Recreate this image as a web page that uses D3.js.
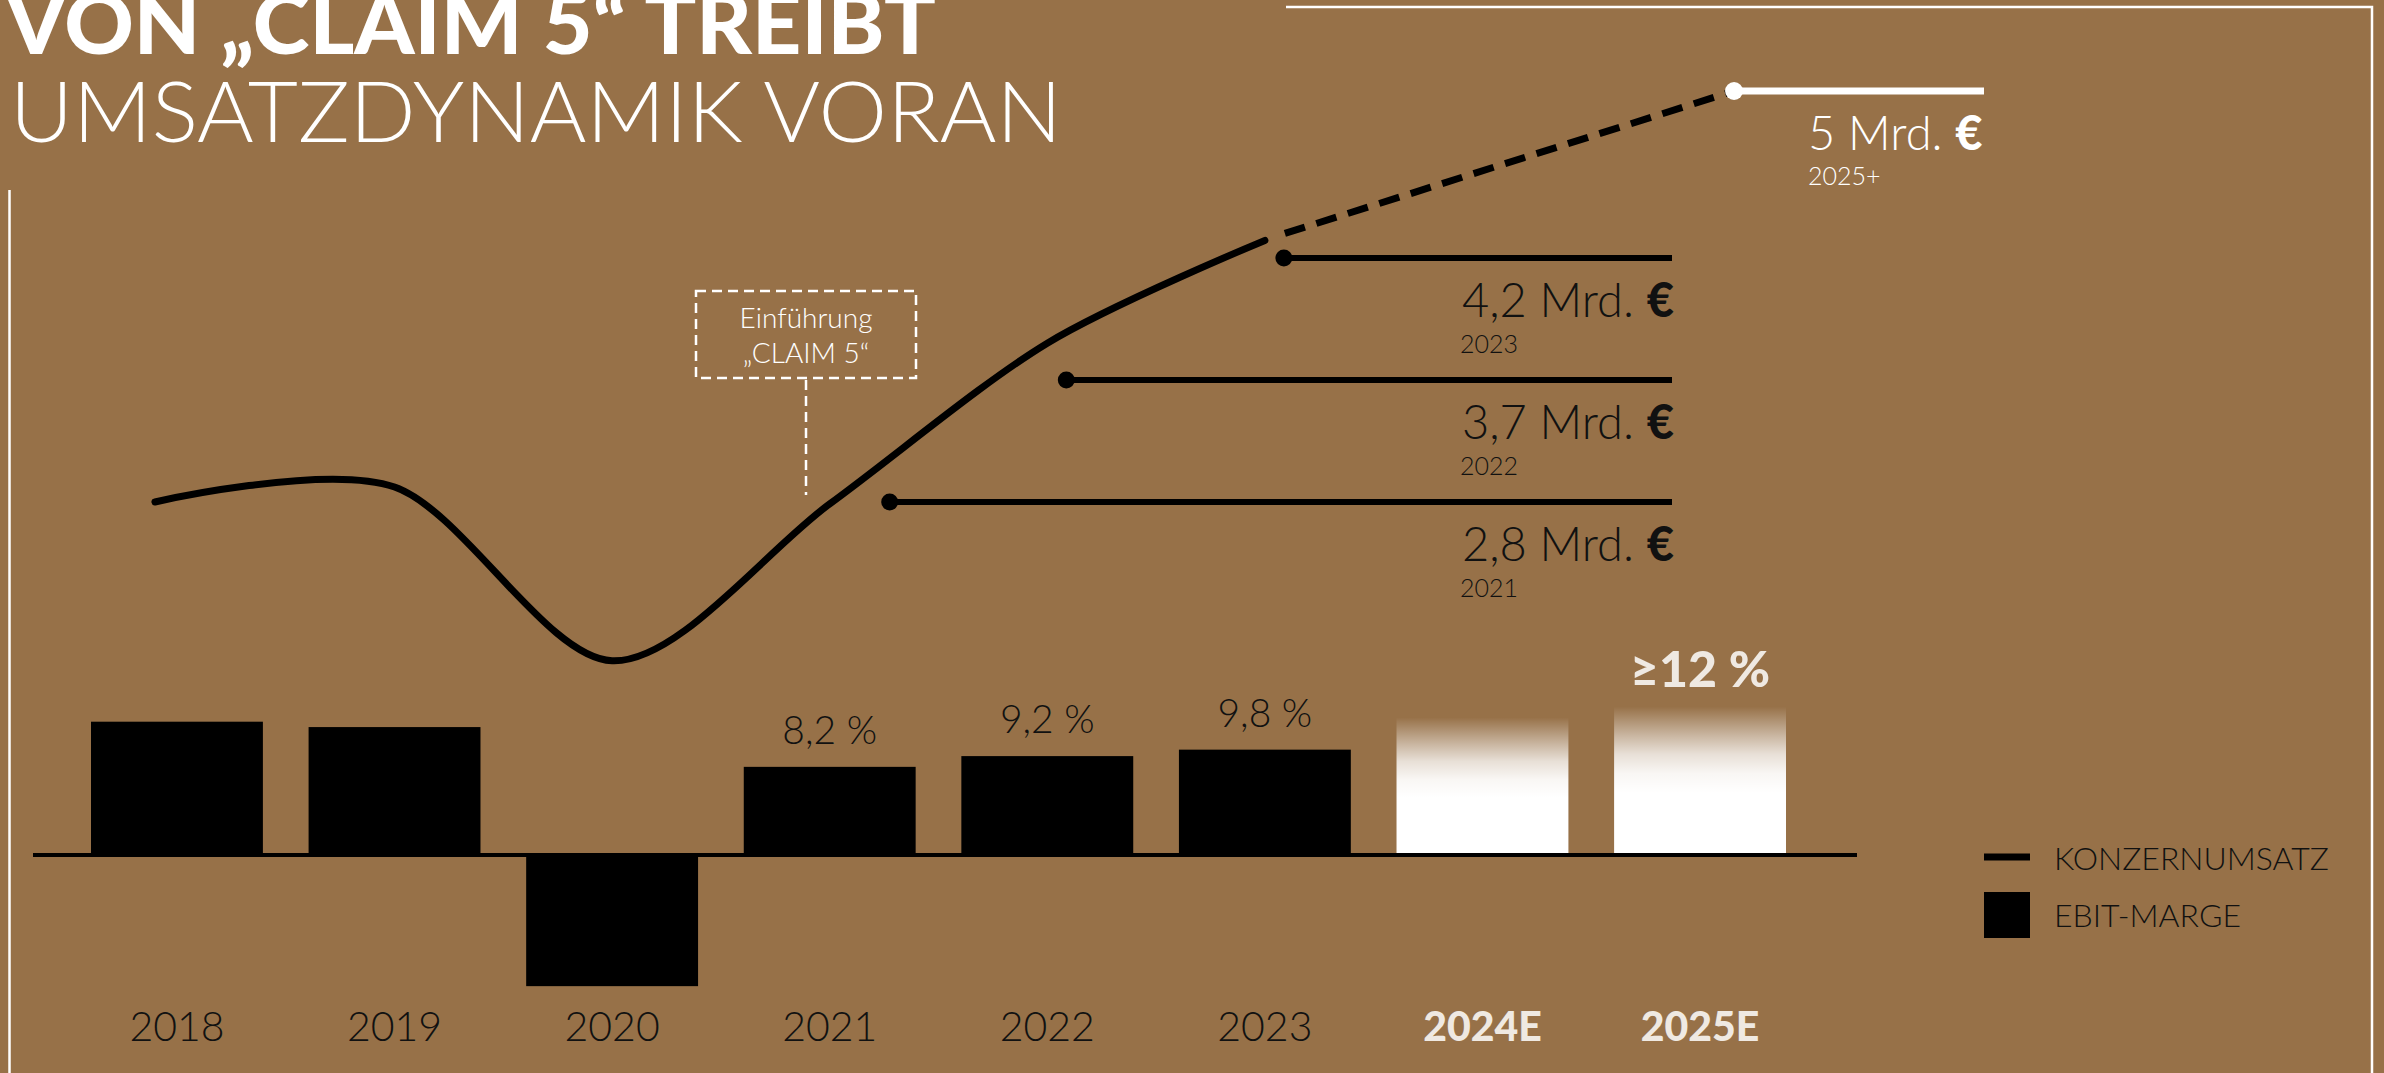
<!DOCTYPE html>
<html>
<head>
<meta charset="utf-8">
<script src="https://cdn.jsdelivr.net/npm/d3@7.9.0/dist/d3.min.js"></script>
<style>
  html, body { margin: 0; padding: 0; background: #977148; overflow: hidden; }
  svg { display: block; font-family: Lato, "Open Sans", sans-serif; }
</style>
</head>
<body>
<svg id="chart" width="2384" height="1073"></svg>
<script>
// ebit margin bars
const years = ['2018', '2019', '2020', '2021', '2022', '2023', '2024E', '2025E'];
const ebitMargin = [12.4, 11.9, -12.2, 8.2, 9.2, 9.8, 12.8, 13.8];
const marginLabels = ['', '', '', '8,2 %', '9,2 %', '9,8 %', '', '≥12 %'];
const forecastYears = ['2024E', '2025E'];

// revenue curve (bn EUR)
const revenueYears = ['2018', '2019', '2020', '2021', '2022', '2023'];
const revenue = [2.80, 2.88, 1.95, 2.79, 3.65, 4.20];
const targetYear = '2025E';
const targetRevenue = 5.0;

// callouts on the right
const calloutYears = ['2021', '2022', '2023'];
const calloutValues = ['2,8', '3,7', '4,2'];

const BG = '#977148';
const OFFWHITE = '#efe9e2';

const svg = d3.select('#chart');
svg.append('rect').attr('width', 2384).attr('height', 1073).attr('fill', BG);

const defs = svg.append('defs');
const grad = defs.append('linearGradient')
  .attr('id', 'fade').attr('x1', 0).attr('y1', 0).attr('x2', 0).attr('y2', 1);
[[0, 0], [0.08, 0.2], [0.2, 0.5], [0.32, 0.78], [0.45, 0.94], [0.58, 1], [1, 1]].forEach(([o, a]) => {
  grad.append('stop').attr('offset', o).attr('stop-color', '#fff').attr('stop-opacity', a);
});

// scales
const x = d3.scaleBand().domain(years).range([91, 1786]).paddingInner(0.21).paddingOuter(0);
const cx = d => x(d) + x.bandwidth() / 2;
const yBar = d3.scaleLinear().domain([0, 10]).range([855, 747.5]);
const yRev = d3.scaleLinear().domain([2.8, 5]).range([502, 91]);
const yCallout = d3.scalePoint().domain(calloutYears).range([502, 258]);

// frame lines
svg.append('path')
  .attr('d', 'M9.5,190 V1073 M1286,7 H2372 V1073')
  .attr('fill', 'none').attr('stroke', '#fff').attr('stroke-width', 2.5);

// title
svg.append('text').attr('x', 6).attr('y', 54)
  .attr('font-size', 84).attr('font-weight', 900).attr('fill', '#fff')
  .attr('textLength', 930).attr('lengthAdjust', 'spacingAndGlyphs')
  .text('VON „CLAIM 5“ TREIBT');
svg.append('text').attr('x', 10).attr('y', 142)
  .attr('font-size', 84).attr('font-weight', 300).attr('fill', '#fff')
  .attr('textLength', 1052).attr('lengthAdjust', 'spacingAndGlyphs')
  .text('UMSATZDYNAMIK VORAN');

// bars
const barData = years.map((y, i) => ({ year: y, value: ebitMargin[i], label: marginLabels[i] }));
svg.append('g').selectAll('rect')
  .data(barData)
  .join('rect')
  .attr('x', d => x(d.year))
  .attr('width', x.bandwidth())
  .attr('y', d => yBar(Math.max(0, d.value)))
  .attr('height', d => Math.abs(yBar(d.value) - yBar(0)))
  .attr('fill', d => forecastYears.includes(d.year) ? 'url(#fade)' : '#000');

// baseline
svg.append('line')
  .attr('x1', 33).attr('x2', 1857)
  .attr('y1', yBar(0)).attr('y2', yBar(0))
  .attr('stroke', '#000').attr('stroke-width', 4);

// bar value labels
svg.append('g').selectAll('text')
  .data(barData.filter(d => d.label))
  .join('text')
  .attr('x', d => cx(d.year))
  .attr('y', d => forecastYears.includes(d.year) ? yBar(d.value) - 20 : yBar(d.value) - 23)
  .attr('text-anchor', 'middle')
  .attr('font-size', d => forecastYears.includes(d.year) ? 50 : 39)
  .attr('font-weight', d => forecastYears.includes(d.year) ? 900 : 300)
  .attr('fill', d => forecastYears.includes(d.year) ? OFFWHITE : '#111')
  .text(d => d.label);

// year labels
svg.append('g').selectAll('text')
  .data(years)
  .join('text')
  .attr('x', d => cx(d))
  .attr('y', 1041)
  .attr('text-anchor', 'middle')
  .attr('font-size', 41)
  .attr('font-weight', d => forecastYears.includes(d) ? 900 : 300)
  .attr('fill', d => forecastYears.includes(d) ? OFFWHITE : '#111')
  .text(d => d);

// revenue curve (first point drawn a little left of its bar centre, as in the original)
const revPts = revenueYears.map((y, i) => [cx(y) - (i === 0 ? 22 : 0), yRev(revenue[i])]);
svg.append('path')
  .attr('d', d3.line().curve(d3.curveCardinal.tension(0.1))(revPts))
  .attr('fill', 'none').attr('stroke', '#000').attr('stroke-width', 7)
  .attr('stroke-linecap', 'round');

// forecast (dashed) to target
const target = [cx(targetYear) + 34, yRev(targetRevenue)];
const last = revPts[revPts.length - 1];
svg.append('line')
  .attr('x1', last[0] + 20).attr('y1', last[1] - 7)
  .attr('x2', target[0]).attr('y2', target[1])
  .attr('stroke', '#000').attr('stroke-width', 7)
  .attr('stroke-dasharray', '21 12');

// target marker
svg.append('line')
  .attr('x1', target[0]).attr('x2', 1984)
  .attr('y1', target[1]).attr('y2', target[1])
  .attr('stroke', '#fff').attr('stroke-width', 7);
svg.append('circle').attr('cx', target[0]).attr('cy', target[1]).attr('r', 9).attr('fill', '#fff');
const tLab = svg.append('text').attr('x', 1808).attr('y', target[1] + 59)
  .attr('font-size', 47).attr('font-weight', 300).attr('fill', '#fff');
tLab.append('tspan').text('5 Mrd. ');
tLab.append('tspan').attr('font-weight', 900).text('€');
svg.append('text').attr('x', 1808).attr('y', target[1] + 94)
  .attr('font-size', 25).attr('font-weight', 300).attr('fill', '#fff')
  .text('2025+');

// callouts
const dotNudge = [60, 19, 19];
const callouts = calloutYears.map((y, i) => ({ year: y, value: calloutValues[i], nudge: dotNudge[i] }));
const cg = svg.append('g').selectAll('g').data(callouts).join('g');
cg.append('line')
  .attr('x1', d => cx(d.year) + d.nudge).attr('x2', 1672)
  .attr('y1', d => yCallout(d.year)).attr('y2', d => yCallout(d.year))
  .attr('stroke', '#000').attr('stroke-width', 6);
cg.append('circle')
  .attr('cx', d => cx(d.year) + d.nudge).attr('cy', d => yCallout(d.year))
  .attr('r', 8.5).attr('fill', '#000');
const vt = cg.append('text')
  .attr('x', 1674).attr('y', d => yCallout(d.year) + 59)
  .attr('text-anchor', 'end')
  .attr('font-size', 47).attr('font-weight', 300).attr('fill', '#111');
vt.append('tspan').text(d => d.value + ' Mrd. ');
vt.append('tspan').attr('font-weight', 900).text('€');
cg.append('text')
  .attr('x', 1460).attr('y', d => yCallout(d.year) + 95)
  .attr('font-size', 25).attr('font-weight', 300).attr('fill', '#111')
  .text(d => d.year);

// annotation box
const ann = svg.append('g');
ann.append('rect').attr('x', 696).attr('y', 291).attr('width', 220).attr('height', 87)
  .attr('fill', 'none').attr('stroke', '#fff').attr('stroke-width', 2.5)
  .attr('stroke-dasharray', '10 6');
ann.append('line').attr('x1', 806).attr('x2', 806).attr('y1', 380).attr('y2', 495)
  .attr('stroke', '#fff').attr('stroke-width', 2.5).attr('stroke-dasharray', '10 6');
ann.append('text').attr('x', 806).attr('y', 328).attr('text-anchor', 'middle')
  .attr('font-size', 28).attr('font-weight', 300).attr('fill', '#fff').text('Einführung');
ann.append('text').attr('x', 806).attr('y', 363).attr('text-anchor', 'middle')
  .attr('font-size', 28).attr('font-weight', 300).attr('fill', '#fff').text('„CLAIM 5“');

// legend
const lg = svg.append('g');
lg.append('line').attr('x1', 1984).attr('x2', 2030).attr('y1', 857).attr('y2', 857)
  .attr('stroke', '#000').attr('stroke-width', 7);
lg.append('rect').attr('x', 1984).attr('y', 892).attr('width', 46).attr('height', 46).attr('fill', '#000');
lg.append('text').attr('x', 2054).attr('y', 870).attr('font-size', 32).attr('font-weight', 300)
  .attr('fill', '#111').text('KONZERNUMSATZ');
lg.append('text').attr('x', 2054).attr('y', 927).attr('font-size', 32).attr('font-weight', 300)
  .attr('fill', '#111').text('EBIT-MARGE');
</script>
</body>
</html>
